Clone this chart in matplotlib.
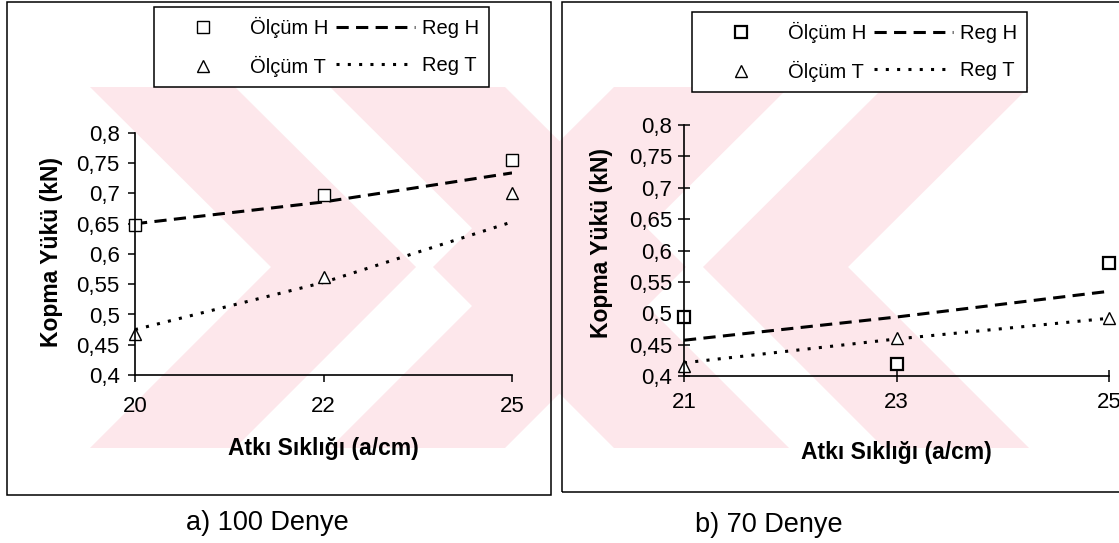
import matplotlib
matplotlib.use("Agg")
import matplotlib.pyplot as plt
from matplotlib.patches import Polygon, Rectangle
import numpy as np

plt.rcParams["font.family"] = ["Liberation Sans", "DejaVu Sans"]

W, H = 1119, 543

# data
cats_a = ["20", "22", "25"]
olcum_h_a = [0.648, 0.697, 0.756]
olcum_t_a = [0.468, 0.562, 0.701]
reg_h_a = [0.650, 0.686, 0.734]
reg_t_a = [0.475, 0.553, 0.653]

cats_b = ["21", "23", "25"]
olcum_h_b = [0.494, 0.419, 0.580]
olcum_t_b = [0.416, 0.461, 0.492]
reg_h_b = [0.457, 0.494, 0.535]
reg_t_b = [0.421, 0.459, 0.492]

y_ticks = [0.4, 0.45, 0.5, 0.55, 0.6, 0.65, 0.7, 0.75, 0.8]
x_label = "Atkı Sıklığı (a/cm)"
y_label = "Kopma Yükü (kN)"
captions = ["a) 100 Denye", "b) 70 Denye"]
legend_labels = ["Ölçüm H", "Ölçüm T", "Reg H", "Reg T"]


def px(x, y):
    return (x / W, 1 - y / H)


fig = plt.figure(figsize=(W / 100, H / 100), dpi=100)

# faint watermark behind the charts
pink = "#fde7eb"
top, mid, bot = 87, 267, 448
for x0, w in ((90, 145), (330, 175)):
    s = 181
    shape = [(x0, top), (x0 + w, top), (x0 + w + s, mid),
             (x0 + w, bot), (x0, bot), (x0 + s, mid)]
    for pts in ([px(x, y) for x, y in shape],
                [px(W - x, y) for x, y in shape]):
        fig.add_artist(Polygon(pts, closed=True, facecolor=pink,
                               edgecolor="none", zorder=-2,
                               transform=fig.transFigure))

# panel frames
for (x0, y0, x1, y1) in [(7, 2, 551, 495), (562, 2, 1128, 492)]:
    fig.add_artist(Rectangle(px(x0, y1), (x1 - x0) / W, (y1 - y0) / H,
                             fill=False, edgecolor="black", linewidth=1.1,
                             zorder=-1, transform=fig.transFigure))


def draw_panel(rect, cats, oh, ot, rh, rt, tick_dir, leg_xy, ylab_xy, xlab_xy, sq_mew):
    ax = fig.add_axes(rect)
    ax.patch.set_alpha(0)
    x = np.arange(len(cats))
    l_rh, = ax.plot(x, rh, color="black", lw=2.2, dashes=(4, 2.4))
    l_rt, = ax.plot(x, rt, color="black", lw=2.2, dashes=(1, 2.7))
    l_oh, = ax.plot(x, oh, ls="none", marker="s", ms=8.5, mfc="white",
                    mec="black", mew=sq_mew, clip_on=False)
    l_ot, = ax.plot(x, ot, ls="none", marker="^", ms=8, mfc="white",
                    mec="black", mew=1.0, clip_on=False)

    ax.set_xlim(0, len(cats) - 1)
    ax.set_ylim(0.4, 0.8)
    ax.set_xticks(x)
    ax.set_xticklabels(cats)
    ax.set_yticks(y_ticks)
    ax.set_yticklabels([f"{v:g}".replace(".", ",") for v in y_ticks])
    for side in ("top", "right"):
        ax.spines[side].set_visible(False)
    for side in ("left", "bottom"):
        ax.spines[side].set_linewidth(1.2)
    tlen = 5 if tick_dir == "out" else 9
    ax.tick_params(axis="y", direction=tick_dir, length=tlen, width=1.1,
                   labelsize=16, pad=6 if tick_dir == "out" else 4)
    ax.tick_params(axis="x", direction=tick_dir, length=tlen, width=1.1,
                   labelsize=16, pad=10 if tick_dir == "out" else 7)

    ax.set_xlabel(x_label, fontsize=16.5, fontweight="bold")
    ax.set_ylabel(y_label, fontsize=16.5, fontweight="bold")
    ax.xaxis.set_label_coords(*xlab_xy)
    ax.yaxis.set_label_coords(*ylab_xy)

    leg = ax.legend([l_oh, l_ot, l_rh, l_rt], legend_labels, ncol=2,
                    loc="upper left", bbox_to_anchor=leg_xy,
                    bbox_transform=fig.transFigure, fontsize=14.5,
                    handlelength=3.9, handletextpad=0.35, columnspacing=0.4,
                    labelspacing=0.9, borderpad=0.5, borderaxespad=0,
                    numpoints=1, fancybox=False, framealpha=1)
    leg.get_frame().set_edgecolor("black")
    leg.get_frame().set_linewidth(1.1)
    return ax


draw_panel([135 / W, 1 - 375 / H, 377 / W, 242 / H], cats_a,
           olcum_h_a, olcum_t_a, reg_h_a, reg_t_a, "out",
           px(154, 7), (-0.19, 0.51), (0.5, -0.255), 1.0)
draw_panel([684 / W, 1 - 376 / H, 425 / W, 251 / H], cats_b,
           olcum_h_b, olcum_t_b, reg_h_b, reg_t_b, "inout",
           px(692, 12), (-0.167, 0.53), (0.5, -0.26), 1.6)

fig.text(*px(267, 523), captions[0], fontsize=19.5, ha="center", va="center")
fig.text(*px(769, 525), captions[1], fontsize=19.5, ha="center", va="center")

fig.savefig("out.png", dpi=100)
